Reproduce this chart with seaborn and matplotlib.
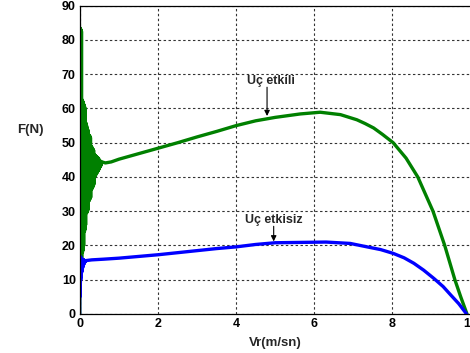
import matplotlib
matplotlib.use("Agg")
import matplotlib.pyplot as plt
import seaborn as sns
import pandas as pd

# Start-up transient of the tip-loss curve: envelope of the oscillation
# (upper / lower peaks per 0.01 m/s step)
osc_x = [0.01, 0.02, 0.03, 0.04, 0.05, 0.06, 0.07, 0.08, 0.09, 0.10,
         0.11, 0.12, 0.13, 0.14, 0.15, 0.16, 0.17, 0.18, 0.19, 0.20,
         0.21, 0.22, 0.23, 0.24, 0.25, 0.26, 0.27, 0.28, 0.29, 0.30,
         0.31, 0.32, 0.33, 0.34, 0.35, 0.36, 0.37, 0.38, 0.39, 0.40,
         0.41, 0.42, 0.43, 0.44, 0.45, 0.46, 0.47, 0.48, 0.49, 0.50,
         0.51, 0.52, 0.53, 0.54, 0.55]
green_upper = [83.5, 83.5, 83.0, 83.0, 82.5, 62.5, 62.5, 62.0, 62.0, 61.5,
               61.0, 61.0, 60.5, 60.0, 56.0, 55.8, 55.5, 55.0, 54.5, 54.0,
               53.8, 53.5, 52.3, 52.3, 52.0, 52.0, 51.8, 51.5, 49.0, 49.0,
               48.8, 48.6, 48.4, 48.2, 48.0, 47.8, 46.5, 46.5, 46.4, 46.3,
               46.2, 46.1, 46.0, 45.9, 45.8, 45.7, 45.6, 45.5, 45.4, 44.8,
               44.8, 44.7, 44.7, 44.6, 44.6]
green_lower = [14.0, 14.0, 14.5, 14.5, 15.0, 18.0, 18.0, 18.5, 19.0, 20.0,
               24.0, 24.0, 24.5, 25.0, 26.0, 29.5, 29.5, 29.5, 30.0, 30.0,
               30.5, 31.0, 33.0, 33.0, 33.5, 33.5, 34.0, 34.0, 36.3, 36.3,
               36.5, 36.8, 37.0, 37.2, 37.5, 37.8, 40.0, 40.0, 40.2, 40.4,
               40.6, 40.8, 41.0, 41.2, 41.4, 41.6, 41.8, 42.0, 42.2, 42.5,
               42.7, 42.9, 43.1, 43.3, 43.5]
blue_osc_x = [0.01, 0.02, 0.03, 0.04, 0.05, 0.06, 0.07, 0.08, 0.09, 0.10,
              0.11, 0.12, 0.13, 0.14, 0.15]
blue_upper = [15.0, 16.5, 16.8, 16.5, 16.3, 16.2, 16.0, 16.0, 15.9, 15.9,
              15.8, 15.8, 15.7, 15.7, 15.7]
blue_lower = [5.0, 9.0, 10.0, 11.0, 12.0, 12.5, 13.0, 13.5, 14.0, 14.3,
              14.6, 14.8, 15.0, 15.2, 15.4]

# Steady part of the tip-loss curve ("Uç etkili")
green_x = [0.56, 0.65, 0.80, 1.0, 1.5, 2.0, 2.5, 3.0, 3.5, 4.0, 4.5, 5.0,
           5.64, 6.15, 6.67, 7.09, 7.30, 7.52, 7.75, 8.02, 8.35, 8.65, 9.04,
           9.34, 9.60, 9.75, 9.91]
green_y = [44.4, 44.1, 44.4, 45.2, 46.8, 48.4, 50.0, 51.7, 53.3, 55.0, 56.4,
           57.4, 58.4, 58.9, 58.2, 56.7, 55.6, 54.3, 52.4, 50.0, 45.5, 40.0,
           30.0, 20.0, 10.0, 5.0, 0.0]

# Steady part of the curve without tip loss ("Uç etkisiz")
blue_x = [0.16, 0.30, 0.6, 1.0, 1.5, 2.0, 2.5, 3.0, 3.5, 4.0, 4.5, 5.0, 5.64,
          6.3, 6.92, 7.35, 7.70, 8.02, 8.30, 8.55, 8.80, 9.06, 9.30, 9.49,
          9.70, 9.90]
blue_y = [15.6, 15.8, 16.0, 16.3, 16.8, 17.3, 17.9, 18.5, 19.1, 19.6, 20.3,
          20.8, 20.9, 21.0, 20.6, 19.6, 18.8, 17.7, 16.4, 14.8, 12.8, 10.4,
          8.0, 5.6, 3.0, 0.0]

x_ticks = [0, 2, 4, 6, 8, 10]
y_ticks = [0, 10, 20, 30, 40, 50, 60, 70, 80, 90]


def zigzag(xs, upper, lower):
    """Alternate between upper and lower peaks, starting from the origin."""
    px, py = [0.0], [0.0]
    for x, hi, lo in zip(xs, upper, lower):
        px += [x - 0.005, x]
        py += [hi, lo]
    return px, py


gx, gy = zigzag(osc_x, green_upper, green_lower)
bx, by = zigzag(blue_osc_x, blue_upper, blue_lower)

green_osc_df = pd.DataFrame({"Vr": gx, "F": gy})
blue_osc_df = pd.DataFrame({"Vr": bx, "F": by})
green_df = pd.DataFrame({"Vr": green_x, "F": green_y})
blue_df = pd.DataFrame({"Vr": blue_x, "F": blue_y})

sns.set_style("white")
plt.rcParams["font.family"] = ["Liberation Sans", "DejaVu Sans"]
plt.rcParams["font.weight"] = "bold"

fig = plt.figure(figsize=(4.70, 3.53), dpi=100)
ax = fig.add_axes([80 / 470, 1 - 314 / 353, 390.5 / 470, (314 - 5.7) / 353])

green = "#008000"
blue = "#0000ff"
sns.lineplot(data=green_osc_df, x="Vr", y="F", ax=ax, color=green, lw=2.0,
             sort=False, estimator=None)
sns.lineplot(data=green_df, x="Vr", y="F", ax=ax, color=green, lw=2.4,
             sort=False, estimator=None, solid_capstyle="round")
sns.lineplot(data=blue_osc_df, x="Vr", y="F", ax=ax, color=blue, lw=1.8,
             sort=False, estimator=None)
sns.lineplot(data=blue_df, x="Vr", y="F", ax=ax, color=blue, lw=2.4,
             sort=False, estimator=None, solid_capstyle="round")

ax.set_xlim(0, 10)
ax.set_ylim(0, 90)
ax.set_xticks(x_ticks)
ax.set_yticks(y_ticks)
ax.set_xticklabels([str(t) for t in x_ticks], fontsize=9, fontweight="bold")
ax.set_yticklabels([str(t) for t in y_ticks], fontsize=9, fontweight="bold")
ax.tick_params(direction="in", length=3, width=0.8, pad=3, colors="black")

ax.grid(True, color="#333333", linestyle=(0, (2.2, 2.2)), linewidth=0.8)
for side in ["left", "bottom", "top"]:
    ax.spines[side].set_visible(True)
    ax.spines[side].set_color("black")
    ax.spines[side].set_linewidth(0.9)
ax.spines["right"].set_visible(False)

ax.set_xlabel("Vr(m/sn)", fontsize=9.5, fontweight="bold", labelpad=5)
ax.set_ylabel("")
fig.text(30 / 470, 1 - 130 / 353, "F(N)", fontsize=9.5, fontweight="bold",
         ha="center", va="center")

arrow = dict(arrowstyle="-|>", color="black", lw=0.8, mutation_scale=8,
             shrinkA=0, shrinkB=0)
ax.annotate("", xy=(4.79, 57.8), xytext=(4.79, 66.2), arrowprops=arrow)
ax.text(4.9, 67.9, "Uç etkili", fontsize=9, fontweight="bold",
        ha="center", va="center")
ax.annotate("", xy=(4.96, 21.2), xytext=(4.96, 25.6), arrowprops=arrow)
ax.text(4.97, 27.4, "Uç etkisiz", fontsize=9, fontweight="bold",
        ha="center", va="center")

fig.savefig("out.png", dpi=100)
